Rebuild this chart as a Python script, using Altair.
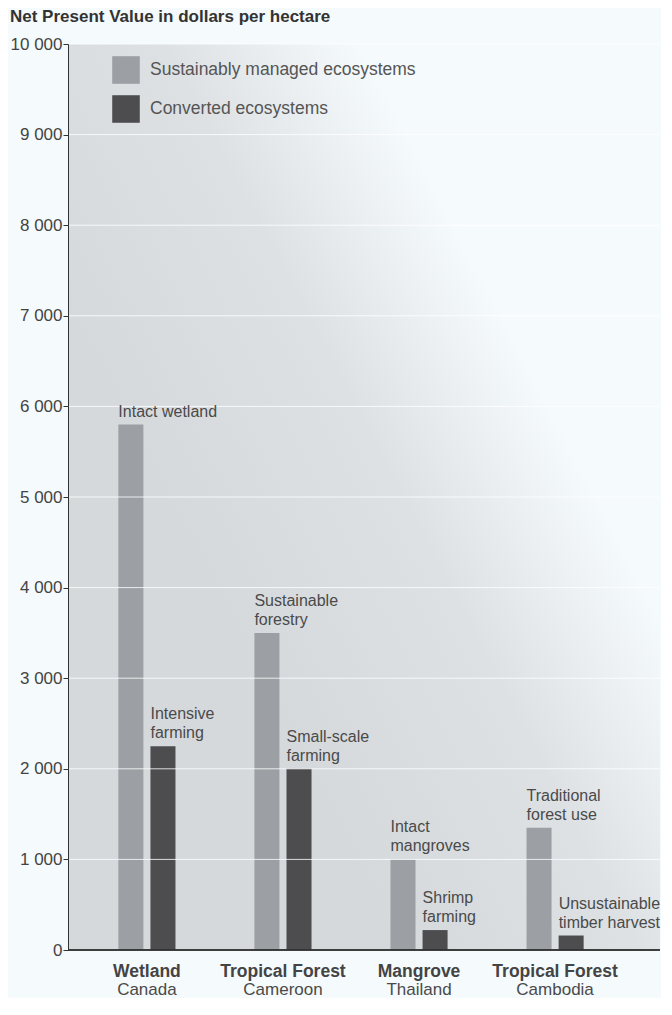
import altair as alt
import pandas as pd

groups = ["Wetland", "Tropical Forest", "Mangrove", "Tropical Forest"]
regions = ["Canada", "Cameroon", "Thailand", "Cambodia"]
series = ["Sustainably managed ecosystems", "Converted ecosystems"]
sustainable = [5800, 3500, 1000, 1350]
converted = [2250, 2000, 220, 160]
sustainable_labels = [["", "Intact wetland"], ["Sustainable", "forestry"],
                      ["Intact", "mangroves"], ["Traditional", "forest use"]]
converted_labels = [["Intensive", "farming"], ["Small-scale", "farming"],
                    ["Shrimp", "farming"], ["Unsustainable", "timber harvest"]]
y_ticks = list(range(0, 10001, 1000))

keys = [f"{g} {r}" for g, r in zip(groups, regions)]
rows = []
for k, s, c, sl, cl in zip(keys, sustainable, converted, sustainable_labels, converted_labels):
    rows.append(dict(key=k, series=series[0], value=s, line1=sl[0], line2=sl[1]))
    rows.append(dict(key=k, series=series[1], value=c, line1=cl[0], line2=cl[1]))
df = pd.DataFrame(rows)
gdf = pd.DataFrame(dict(key=keys, group=groups, region=regions))
tdf = pd.DataFrame(dict(tick=y_ticks[1:]))

W = 566
H = 906
FULL_W = 592
FONT = "Liberation Sans"
TXT = 16

xenc = alt.X("key:N", sort=keys,
             scale=alt.Scale(domain=keys, range=[0, W], paddingInner=0.5, paddingOuter=0.33),
             axis=None)
xoff = alt.XOffset("series:N", sort=series,
                   scale=alt.Scale(domain=series, paddingInner=0.22, paddingOuter=0.17))
yenc = alt.Y("value:Q",
             scale=alt.Scale(domain=[0, 10000], nice=False),
             axis=alt.Axis(values=y_ticks, title=None,
                           labelExpr="replace(format(datum.value, ','), ',', ' ')",
                           labelFontSize=17, labelColor="#444", labelFont=FONT,
                           tickSize=5, tickColor="#333", domainColor="#333",
                           grid=False, labelPadding=1, zindex=1))

background = alt.Chart(gdf).mark_rect(
    fill=alt.LinearGradient(
        gradient="linear", x1=0.30, y1=0.68, x2=0.75, y2=0.32,
        stops=[alt.GradientStop(offset=0, color="#d5d9dc"),
               alt.GradientStop(offset=0.55, color="#dde1e4"),
               alt.GradientStop(offset=1, color="#f5fafc")]),
).encode(x=alt.value(0), x2=alt.value(FULL_W), y=alt.value(0), y2=alt.value(H))

bars = alt.Chart(df).mark_bar().encode(
    x=xenc, xOffset=xoff, y=yenc,
    color=alt.Color("series:N", sort=series,
                    scale=alt.Scale(domain=series, range=["#9c9fa3", "#4d4d50"]),
                    legend=alt.Legend(title=None, orient="none", legendX=44, legendY=12,
                                      symbolType="square", symbolSize=760,
                                      symbolStrokeWidth=0, symbolOpacity=1,
                                      labelFontSize=17.5, labelColor="#555", labelFont=FONT,
                                      labelOffset=10, rowPadding=11, labelLimit=0)),
)

grid = alt.Chart(tdf).mark_rule(color="white", strokeWidth=1, opacity=0.8).encode(
    x=alt.value(0), x2=alt.value(FULL_W), y="tick:Q"
)

label2 = alt.Chart(df).mark_text(
    align="left", baseline="alphabetic", dx=-12.5, dy=-8,
    fontSize=TXT, color="#4a4a4a", font=FONT,
).encode(x=xenc, xOffset=xoff, y="value:Q", text="line2:N")

label1 = alt.Chart(df).mark_text(
    align="left", baseline="alphabetic", dx=-12.5, dy=-27,
    fontSize=TXT, color="#4a4a4a", font=FONT,
).encode(x=xenc, xOffset=xoff, y="value:Q", text="line1:N")

baseline = alt.Chart(gdf).mark_rule(color="#333", strokeWidth=1.2).encode(
    x=alt.value(0), x2=alt.value(FULL_W), y=alt.datum(0)
)

glabels = alt.Chart(gdf).mark_text(
    baseline="middle", dy=22, fontSize=17.5, fontWeight="bold", color="#444", font=FONT,
).encode(x=xenc, y=alt.datum(0), text="group:N")

rlabels = alt.Chart(gdf).mark_text(
    baseline="middle", dy=40, fontSize=17, color="#4a4a4a", font=FONT,
).encode(x=xenc, y=alt.datum(0), text="region:N")

chart = alt.layer(background, bars, grid, label2, label1, baseline, glabels, rlabels).properties(
    width=W, height=H,
    title=alt.TitleParams("Net Present Value in dollars per hectare", anchor="start",
                          frame="bounds", fontSize=17, fontWeight="bold",
                          color="#333", font=FONT, offset=9),
    padding={"left": 2, "top": 0, "right": 0, "bottom": 0},
).configure(background="#f5fafc").configure_view(fill=None, stroke=None)

chart.save("out.html", embed_options={"renderer": "svg", "actions": False})
